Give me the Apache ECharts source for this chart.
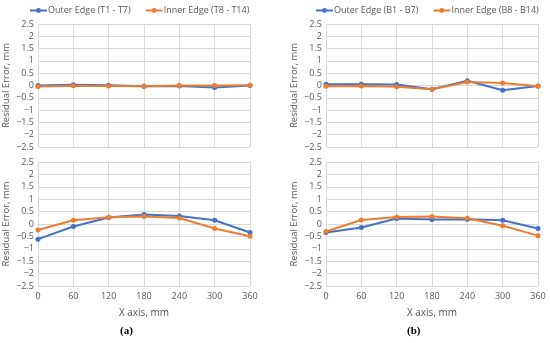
<!DOCTYPE html>
<html><head><meta charset="utf-8">
<script src="https://cdn.jsdelivr.net/npm/echarts@6/dist/echarts.min.js"></script>
<style>html,body{margin:0;padding:0;background:#fff}#c{width:550px;height:343px}</style>
</head><body><div id="c"></div>
<script>
const xValues = [0, 60, 120, 180, 240, 300, 360];
const outerTopA = [0, 0.03, 0.01, -0.03, -0.02, -0.08, 0];
const innerTopA = [-0.04, -0.01, -0.02, -0.03, 0, 0, 0.01];
const outerBotA = [-0.61, -0.1, 0.26, 0.38, 0.32, 0.15, -0.34];
const innerBotA = [-0.24, 0.15, 0.27, 0.3, 0.24, -0.18, -0.49];
const outerTopB = [0.05, 0.05, 0.04, -0.15, 0.19, -0.19, -0.02];
const innerTopB = [-0.03, -0.02, -0.05, -0.15, 0.14, 0.1, -0.03];
const outerBotB = [-0.34, -0.14, 0.22, 0.18, 0.19, 0.15, -0.18];
const innerBotB = [-0.3, 0.16, 0.28, 0.3, 0.23, -0.07, -0.47];
const namesA = ['Outer Edge (T1 - T7)', 'Inner Edge (T8 - T14)'];
const namesB = ['Outer Edge (B1 - B7)', 'Inner Edge (B8 - B14)'];
const yName = 'Residual Error, mm';
const xName = 'X axis, mm';
const panelLabels = ['(a)', '(b)'];

const BLUE = '#4472C4', ORANGE = '#ED7D31', TXT = '#595959', GRID = '#d9d9d9';
const FONT = 'Open Sans';
const grids = [
  {left: 38, top: 24, width: 212, height: 123},
  {left: 38, top: 162, width: 212, height: 124},
  {left: 326, top: 24, width: 212, height: 123},
  {left: 326, top: 162, width: 212, height: 124}
];
const xAxes = grids.map((g, i) => ({
  type: 'value', gridIndex: i, min: 0, max: 360, interval: 60,
  axisLine: {show: false}, axisTick: {show: false},
  splitLine: {show: true, lineStyle: {color: GRID, width: 1}},
  axisLabel: {show: i % 2 === 1, color: TXT, fontSize: 9, fontFamily: FONT, margin: 6},
  name: i % 2 === 1 ? xName : '', nameLocation: 'middle', nameGap: 22,
  nameTextStyle: {color: TXT, fontSize: 10, fontFamily: FONT}
}));
const yAxes = grids.map((g, i) => ({
  type: 'value', gridIndex: i, min: -2.5, max: 2.5, interval: 0.5,
  axisLine: {show: false}, axisTick: {show: false},
  splitLine: {show: true, lineStyle: {color: GRID, width: 1}},
  axisLabel: {color: TXT, fontSize: 9, fontFamily: FONT, margin: 4,
    formatter: v => (v < 0 ? '\u2212' + Math.abs(v) : String(v))},
  name: yName, nameLocation: 'middle', nameRotate: 90, nameGap: 27,
  nameTextStyle: {color: TXT, fontSize: 9.5, fontFamily: FONT}
}));
function mk(name, data, idx, color) {
  return {
    name, type: 'line', xAxisIndex: idx, yAxisIndex: idx,
    data: data.map((v, k) => [xValues[k], v]),
    symbol: 'circle', symbolSize: 5, color,
    lineStyle: {color, width: 2}, itemStyle: {color},
    animation: false
  };
}
const series = [
  mk(namesA[0], outerTopA, 0, BLUE), mk(namesA[1], innerTopA, 0, ORANGE),
  mk(namesA[0], outerBotA, 1, BLUE), mk(namesA[1], innerBotA, 1, ORANGE),
  mk(namesB[0], outerTopB, 2, BLUE), mk(namesB[1], innerTopB, 2, ORANGE),
  mk(namesB[0], outerBotB, 3, BLUE), mk(namesB[1], innerBotB, 3, ORANGE)
];
const legendCommon = {top: 1, width: 260, itemWidth: 17, itemHeight: 6, itemGap: 14,
  textStyle: {color: TXT, fontSize: 9, fontFamily: FONT, padding: [0, 0, 0, -4]}};
const chart = echarts.init(document.getElementById('c'), null, {renderer: 'canvas'});
chart.setOption({
  backgroundColor: '#fff',
  animation: false,
  grid: grids,
  xAxis: xAxes, yAxis: yAxes, series,
  legend: [
    Object.assign({}, legendCommon, {data: namesA, left: 24}),
    Object.assign({}, legendCommon, {data: namesB, left: 310})
  ],
  graphic: [
    {type: 'text', left: 120, top: 326, style: {text: panelLabels[0], font: 'bold 11px "Liberation Serif"', fill: '#000'}},
    {type: 'text', left: 407, top: 326, style: {text: panelLabels[1], font: 'bold 11px "Liberation Serif"', fill: '#000'}}
  ]
});
</script></body></html>
